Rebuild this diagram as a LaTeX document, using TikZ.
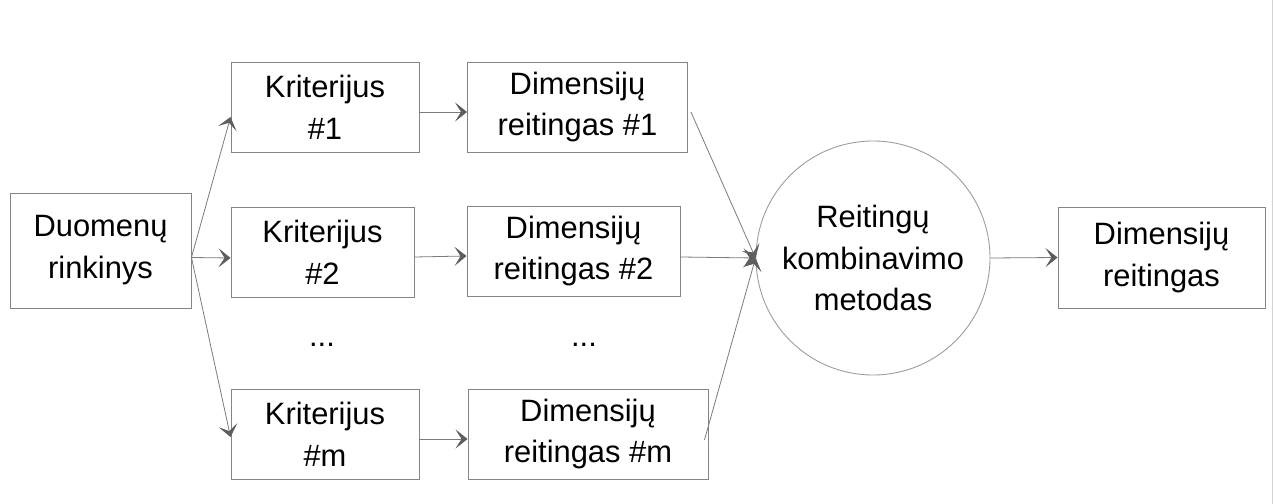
\documentclass[tikz,border=0pt]{standalone}
\usepackage{fontspec}
\setmainfont{Liberation Sans}
\usetikzlibrary{arrows.meta}

\definecolor{linegray}{HTML}{7C7C7C}
\definecolor{tipgray}{HTML}{5E5E5E}
\definecolor{boxgray}{HTML}{858585}

\tikzset{
  box/.style={draw=boxgray, line width=0.9bp, inner sep=0pt, align=center,
    font=\fontsize{31}{42}\selectfont},
  ring/.style={draw=boxgray!80, line width=0.9bp, circle, inner sep=0pt,
    minimum size=234bp, align=center, font=\fontsize{31}{42}\selectfont},
  arr/.style={draw=linegray, line width=0.8bp,
    -{Stealth[length=12bp, width=19bp, inset=6bp, fill=tipgray, color=tipgray]}}
}

\begin{document}
\begin{tikzpicture}[x=1bp, y=-1bp]
% Background
\useasboundingbox (0,0) rectangle (1273,504);
\fill[white] (0,0) rectangle (1273,504);
\draw[gray!35, line width=0.8bp] (1272.5,0) -- (1272.5,504);

% Input
\node[box, minimum width=181bp, minimum height=115bp] (data) at (100.5,250.5) {Duomenų\\rinkinys};

% Criteria
\node[box, minimum width=188bp, minimum height=90bp] (k1) at (325,107) {Kriterijus\\\#1};
\node[box, minimum width=183bp, minimum height=90bp] (k2) at (322.5,252) {Kriterijus\\\#2};
\node[box, minimum width=188bp, minimum height=90bp] (km) at (325,434) {Kriterijus\\\#m};
\node[font=\fontsize{31}{42}\selectfont] (kdots) at (322,345) {...};

% Rankings
\node[box, minimum width=220bp, minimum height=90bp] (d1) at (577.5,107) {Dimensijų\\reitingas \#1};
\node[box, minimum width=213bp, minimum height=90bp] (d2) at (573.5,251) {Dimensijų\\reitingas \#2};
\node[box, minimum width=240bp, minimum height=90bp] (dm) at (588,434) {Dimensijų\\reitingas \#m};
\node[font=\fontsize{31}{42}\selectfont] (ddots) at (584,345) {...};

% Combination and result
\node[ring] (comb) at (873,258) {Reitingų\\kombinavimo\\metodas};
\node[box, minimum width=207bp, minimum height=101bp] (res) at (1161.5,257.5) {Dimensijų\\reitingas};

% Arrows
\draw[arr] ([yshift=-7bp]data.east) -- ([yshift=-10bp]k1.west);
\draw[arr] ([yshift=-7bp]data.east) -- ([yshift=-6bp]k2.west);
\draw[arr] ([yshift=-7bp]data.east) -- ([yshift=-3bp]km.west);
\foreach \i in {1,2,m} {\draw[arr] ([yshift=-5bp]k\i.east) -- ([yshift=-5bp]d\i.west);}
\draw[arr] ([xshift=3bp,yshift=-5bp]d1.east) -- (comb.west);
\draw[arr] ([yshift=-6bp]d2.east) -- (comb.west);
\draw[arr] ([xshift=-4bp,yshift=-6bp]dm.east) -- (comb.west);
\draw[arr] (comb.east) -- (res.west);
\end{tikzpicture}
\end{document}
